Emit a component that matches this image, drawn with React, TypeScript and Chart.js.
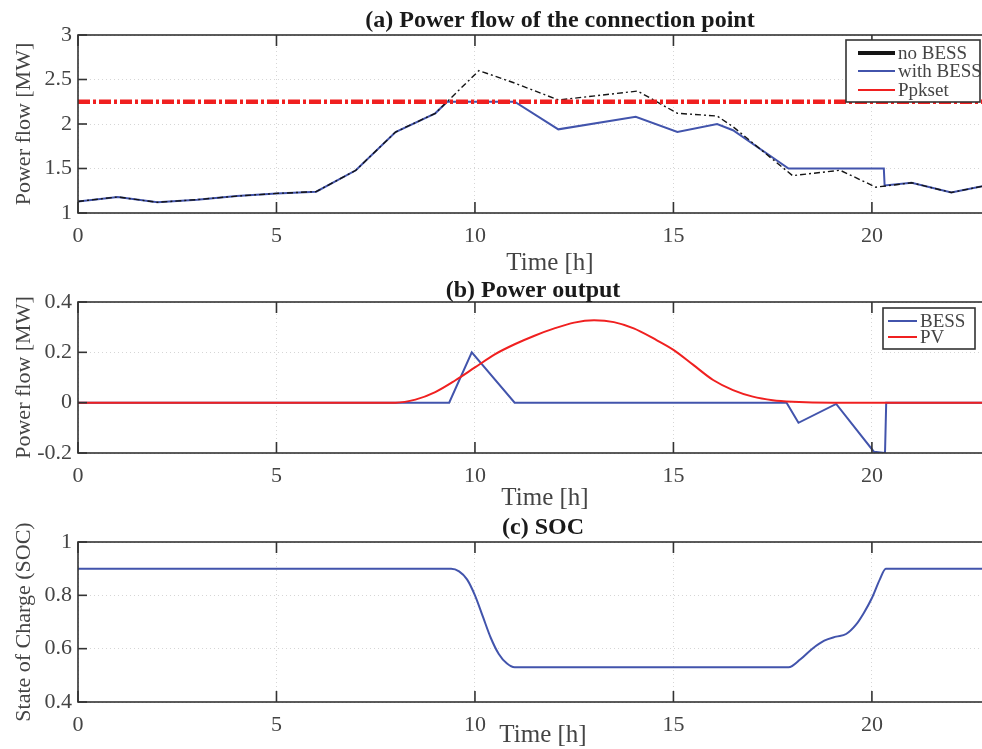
import React, { useEffect, useRef } from 'react';
import { Chart, registerables } from 'chart.js';

Chart.register(...registerables);

// ---------------- data ----------------
const hoursNoBess = [0, 1, 2, 3, 4, 5, 6, 7, 8, 9, 10.1, 11, 12.1, 14.1, 15.1, 16.1, 16.5, 18, 19.2, 20.1, 21, 22, 23];
const powerNoBess = [1.13, 1.18, 1.12, 1.15, 1.19, 1.22, 1.24, 1.48, 1.91, 2.12, 2.6, 2.46, 2.27, 2.37, 2.12, 2.09, 1.97, 1.42, 1.48, 1.29, 1.34, 1.23, 1.32];

const hoursWithBess = [0, 1, 2, 3, 4, 5, 6, 7, 8, 9, 9.3, 11, 12.1, 14.05, 15.1, 16.1, 16.5, 17.9, 20.3, 20.32, 21, 22, 23];
const powerWithBess = [1.13, 1.18, 1.12, 1.15, 1.19, 1.22, 1.24, 1.48, 1.91, 2.12, 2.25, 2.25, 1.94, 2.08, 1.91, 2.0, 1.93, 1.5, 1.5, 1.31, 1.34, 1.23, 1.32];

const hoursPpk = [0, 23];
const ppkset = [2.25, 2.25];

const hoursBess = [0, 9.35, 9.92, 11.0, 17.85, 18.15, 19.1, 20.05, 20.33, 20.36, 23];
const bessOutput = [0, 0, 0.2, 0, 0, -0.08, -0.005, -0.195, -0.2, 0, 0];

const hoursPv = [0, 8, 8.5, 9, 9.5, 10, 10.5, 11, 11.5, 12, 12.5, 13, 13.5, 14, 14.5, 15, 15.5, 16, 16.5, 17, 17.5, 18, 19, 23];
const pvOutput = [0, 0, 0.012, 0.042, 0.088, 0.14, 0.192, 0.232, 0.266, 0.295, 0.318, 0.327, 0.32, 0.295, 0.255, 0.21, 0.15, 0.09, 0.05, 0.024, 0.01, 0.004, 0, 0];

const hoursSoc = [0, 9.4, 9.6, 9.8, 10, 10.2, 10.4, 10.6, 10.8, 11, 17.9, 18.2, 18.5, 18.8, 19.1, 19.35, 19.6, 19.8, 20.0, 20.2, 20.35, 23];
const soc = [0.9, 0.9, 0.89, 0.86, 0.8, 0.72, 0.64, 0.58, 0.545, 0.53, 0.53, 0.56, 0.6, 0.63, 0.645, 0.655, 0.69, 0.735, 0.79, 0.86, 0.9, 0.9];

const xTicksMax = 23;

// ---------------- styles ----------------
const SERIF = "'Liberation Serif', 'DejaVu Serif', serif";
const BLUE = 'rgb(66,84,172)';
const RED = 'rgb(240,32,32)';
const BLACK = '#151515';
const CANVAS_W = 1000;

const pts = (xs: number[], ys: number[]) => xs.map((x, i) => ({ x, y: ys[i] }));
const fmt = (v: any) => String(Math.round(Number(v) * 100) / 100);

type LegendItem = { label: string; color: string; width: number };

type Decor = {
  title: string;
  titleX: number;
  titleY: number;
  xTitle: string;
  xTitleX: number;
  xTitleY: number;
  legend: LegendItem[];
  legendBox: { x: number; y: number; w: number; h: number };
  legendRows: number[];
  legendLine: [number, number];
  legendTextX: number;
};

function decorPlugin(d: Decor) {
  return {
    id: 'decor',
    afterDraw(chart: any) {
      const { ctx, chartArea: a, scales } = chart;
      const xs = scales.x;
      const ys = scales.y;
      ctx.save();
      ctx.setLineDash([]);
      ctx.strokeStyle = '#333';
      ctx.lineWidth = 1.6;
      ctx.strokeRect(a.left, a.top, a.right - a.left, a.bottom - a.top);
      const line = (x1: number, y1: number, x2: number, y2: number) => {
        ctx.beginPath();
        ctx.moveTo(x1, y1);
        ctx.lineTo(x2, y2);
        ctx.stroke();
      };
      xs.ticks.forEach((t: any) => {
        const px = xs.getPixelForValue(t.value);
        line(px, a.bottom, px, a.bottom - 11);
        line(px, a.top, px, a.top + 11);
      });
      ys.ticks.forEach((t: any) => {
        const py = ys.getPixelForValue(t.value);
        line(a.left, py, a.left + 9, py);
        line(a.right, py, a.right - 9, py);
      });
      // titles
      ctx.textAlign = 'center';
      ctx.textBaseline = 'middle';
      ctx.fillStyle = '#1a1a1a';
      ctx.font = `bold 24px ${SERIF}`;
      ctx.fillText(d.title, d.titleX, d.titleY);
      ctx.fillStyle = '#444';
      ctx.font = `25px ${SERIF}`;
      ctx.fillText(d.xTitle, d.xTitleX, d.xTitleY);
      // legend
      if (d.legend.length) {
        const b = d.legendBox;
        ctx.fillStyle = '#fff';
        ctx.fillRect(b.x, b.y, b.w, b.h);
        ctx.strokeStyle = '#333';
        ctx.lineWidth = 1.6;
        ctx.strokeRect(b.x, b.y, b.w, b.h);
        ctx.textAlign = 'left';
        ctx.font = `19px ${SERIF}`;
        d.legend.forEach((it, i) => {
          const y = d.legendRows[i];
          ctx.strokeStyle = it.color;
          ctx.lineWidth = it.width;
          line(d.legendLine[0], y, d.legendLine[1], y);
          ctx.fillStyle = '#444';
          ctx.fillText(it.label, d.legendTextX, y + 1);
        });
      }
      ctx.restore();
    },
  };
}

type Sub = {
  top: number;
  height: number;
  padTop: number;
  xHeight: number;
  yMin: number;
  yMax: number;
  yStep: number;
  yTitle: string;
  datasets: any[];
  decor: Decor;
};

function SubChart({ cfg }: { cfg: Sub }) {
  const ref = useRef<HTMLCanvasElement | null>(null);
  useEffect(() => {
    if (!ref.current) return;
    const tickFont = { family: SERIF, size: 22 };
    const chart = new Chart(ref.current, {
      type: 'line',
      data: { datasets: cfg.datasets },
      options: {
        responsive: false,
        animation: false,
        devicePixelRatio: 1,
        layout: { padding: { top: cfg.padTop, right: 9, bottom: 0, left: 0 } },
        plugins: { legend: { display: false }, tooltip: { enabled: false }, title: { display: false } },
        elements: { point: { radius: 0 } },
        scales: {
          x: {
            type: 'linear',
            min: 0,
            max: xTicksMax,
            afterFit: (s: any) => {
              s.height = cfg.xHeight;
            },
            ticks: { stepSize: 5, includeBounds: false, padding: 10, color: '#444', font: tickFont, maxRotation: 0, callback: fmt },
            grid: { color: 'rgba(0,0,0,0.16)', drawTicks: false, lineWidth: 1 },
            border: { display: false, dash: [1, 3] },
          },
          y: {
            min: cfg.yMin,
            max: cfg.yMax,
            afterFit: (s: any) => {
              s.width = 78;
            },
            ticks: { stepSize: cfg.yStep, padding: 6, color: '#444', font: tickFont, callback: fmt },
            grid: { color: 'rgba(0,0,0,0.16)', drawTicks: false, lineWidth: 1 },
            border: { display: false, dash: [1, 3] },
            title: {
              display: true,
              text: cfg.yTitle,
              color: '#444',
              font: { family: SERIF, size: 22 },
              padding: { top: 11, bottom: 0 },
            },
          },
        },
      } as any,
      plugins: [decorPlugin(cfg.decor)],
    });
    return () => chart.destroy();
  }, [cfg]);
  return (
    <canvas
      ref={ref}
      width={CANVAS_W}
      height={cfg.height}
      style={{ position: 'absolute', left: 0, top: cfg.top, width: CANVAS_W, height: cfg.height }}
    />
  );
}

const chartA: Sub = {
  top: 0,
  height: 280,
  padTop: 35,
  xHeight: 67,
  yMin: 1,
  yMax: 3,
  yStep: 0.5,
  yTitle: 'Power flow [MW]',
  datasets: [
    { label: 'Ppkset', data: pts(hoursPpk, ppkset), borderColor: RED, borderWidth: 4.5, borderDash: [12, 3, 3, 3], tension: 0 },
    { label: 'no BESS', data: pts(hoursNoBess, powerNoBess), borderColor: BLACK, borderWidth: 1.4, borderDash: [6, 3, 2, 3], tension: 0 },
    { label: 'with BESS', data: pts(hoursWithBess, powerWithBess), borderColor: BLUE, borderWidth: 2, tension: 0 },
  ],
  decor: {
    title: '(a) Power flow of the connection point',
    titleX: 560,
    titleY: 21,
    xTitle: 'Time [h]',
    xTitleX: 550,
    xTitleY: 263,
    legend: [
      { label: 'no BESS', color: BLACK, width: 4 },
      { label: 'with BESS', color: BLUE, width: 2 },
      { label: 'Ppkset', color: RED, width: 2 },
    ],
    legendBox: { x: 846, y: 40, w: 134, h: 62 },
    legendRows: [53, 71, 90],
    legendLine: [858, 895],
    legendTextX: 898,
  },
};

const chartB: Sub = {
  top: 280,
  height: 230,
  padTop: 22,
  xHeight: 57,
  yMin: -0.2,
  yMax: 0.4,
  yStep: 0.2,
  yTitle: 'Power flow [MW]',
  datasets: [
    { label: 'PV', data: pts(hoursPv, pvOutput), borderColor: RED, borderWidth: 2, cubicInterpolationMode: 'monotone' },
    { label: 'BESS', data: pts(hoursBess, bessOutput), borderColor: BLUE, borderWidth: 2, tension: 0 },
  ],
  decor: {
    title: '(b) Power output',
    titleX: 533,
    titleY: 11,
    xTitle: 'Time [h]',
    xTitleX: 545,
    xTitleY: 218,
    legend: [
      { label: 'BESS', color: BLUE, width: 2 },
      { label: 'PV', color: RED, width: 2 },
    ],
    legendBox: { x: 883, y: 28, w: 92, h: 41 },
    legendRows: [41, 57],
    legendLine: [888, 917],
    legendTextX: 920,
  },
};

const chartC: Sub = {
  top: 510,
  height: 239,
  padTop: 32,
  xHeight: 47,
  yMin: 0.4,
  yMax: 1,
  yStep: 0.2,
  yTitle: 'State of Charge (SOC)',
  datasets: [
    { label: 'SOC', data: pts(hoursSoc, soc), borderColor: BLUE, borderWidth: 2, cubicInterpolationMode: 'monotone' },
  ],
  decor: {
    title: '(c) SOC',
    titleX: 543,
    titleY: 18,
    xTitle: 'Time [h]',
    xTitleX: 543,
    xTitleY: 225,
    legend: [],
    legendBox: { x: 0, y: 0, w: 0, h: 0 },
    legendRows: [],
    legendLine: [0, 0],
    legendTextX: 0,
  },
};

export default function App() {
  return (
    <div
      style={{
        position: 'fixed',
        left: 0,
        top: 0,
        width: 982,
        height: 749,
        overflow: 'hidden',
        background: '#fff',
      }}
    >
      <SubChart cfg={chartA} />
      <SubChart cfg={chartB} />
      <SubChart cfg={chartC} />
    </div>
  );
}
